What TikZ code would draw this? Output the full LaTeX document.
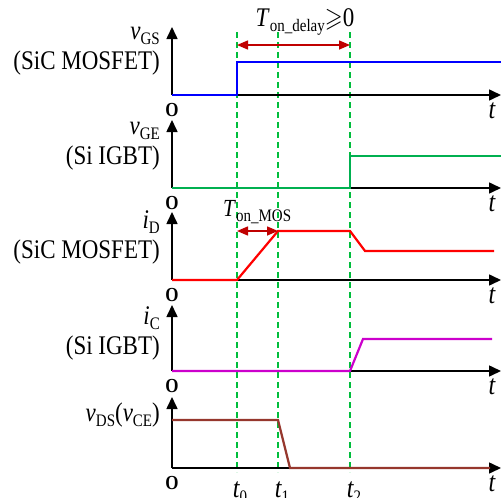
\documentclass[tikz,border=0pt]{standalone}
\usepackage{amssymb}
\usepackage{fontspec}
\setmainfont{Liberation Serif}
\usetikzlibrary{arrows.meta}
\definecolor{sigblue}{RGB}{0,0,255}
\definecolor{siggreen}{RGB}{0,176,80}
\definecolor{sigred}{RGB}{255,0,0}
\definecolor{sigmag}{RGB}{204,0,204}
\definecolor{sigbrown}{RGB}{150,55,45}
\definecolor{dashgreen}{RGB}{0,190,60}
\definecolor{arrred}{RGB}{192,0,0}
\tikzset{
  axis/.style={line width=1.6pt,-{Triangle[length=12pt,width=11pt]}},
  sig/.style={line width=2.2pt,line join=miter},
  guide/.style={dashgreen,line width=1.5pt,dash pattern=on 6pt off 4pt},
  lbl/.style={font=\fontsize{23}{26}\selectfont,inner sep=0pt,anchor=east},
  tl/.style={font=\fontsize{24}{26}\selectfont\itshape,inner sep=0pt},
  ol/.style={font=\fontsize{17}{20}\selectfont\bfseries,inner sep=0pt},
  dim/.style={arrred,line width=1.5pt,{Triangle[length=11pt,width=9pt]}-{Triangle[length=11pt,width=9pt]}}
}
\newcommand{\sub}[1]{\raisebox{-0.18em}{\fontsize{15}{16}\selectfont #1}}
\newcommand{\tall}[1]{\scalebox{1}[1.17]{#1}}
\begin{document}
\begin{tikzpicture}[x=1pt,y=-1pt]
\useasboundingbox (0,0) rectangle (501,498);
% guide lines
\foreach \n/\x in {a/237,b/278,c/350}{
  \coordinate (g\n top) at (\x,32);
  \coordinate (g\n bot) at (\x,472);
  \draw[guide] (g\n top) -- (g\n bot);
}
% axes
\foreach \i/\b/\t in {1/95/27,2/188/120,3/280/212,4/371/305,5/468/397}{
  \coordinate (o\i) at (172,\b);
  \coordinate (y\i) at (172,\t);
  \coordinate (x\i) at (501,\b);
  \draw[axis] (o\i) -- (y\i);
  \draw[axis] (o\i) -- (x\i);
  \node[ol] (O\i) at (172,\b+15) {\tall{O}};
  \node[tl] (t\i) at (492,\b+16) {\tall{t}};
}
% signals
\coordinate (b1) at (237,95); \coordinate (b2) at (237,62); \coordinate (b3) at (501,62);
\draw[sig,sigblue] (o1) -- (b1) -- (b2) -- (b3);
\coordinate (c1) at (350,188); \coordinate (c2) at (350,156); \coordinate (c3) at (501,156);
\draw[sig,siggreen] (o2) -- (c1) -- (c2) -- (c3);
\coordinate (d1) at (237,280); \coordinate (d2) at (278,231); \coordinate (d3) at (350,231);
\coordinate (d4) at (365,251); \coordinate (d5) at (494,251);
\draw[sig,sigred] (o3) -- (d1) -- (d2) -- (d3) -- (d4) -- (d5);
\coordinate (e1) at (350,371); \coordinate (e2) at (363,339); \coordinate (e3) at (492,339);
\draw[sig,sigmag] (o4) -- (e1) -- (e2) -- (e3);
\coordinate (f0) at (172,420); \coordinate (f1) at (278,420); \coordinate (f2) at (290,468); \coordinate (f3) at (490,468);
\draw[sig,sigbrown] (f0) -- (f1) -- (f2) -- (f3);
% dimension arrows
\coordinate (h1) at (237,45); \coordinate (h2) at (350,45);
\draw[dim] (h1) -- (h2);
\node[font=\fontsize{23}{26}\selectfont,inner sep=0pt] (Tdel) at (305,22) {\tall{\textit{T}\sub{on\_delay}$\geqslant$0}};
\coordinate (k1) at (237,231); \coordinate (k2) at (278,231);
\draw[dim] (k1) -- (k2);
\node[font=\fontsize{21}{24}\selectfont,inner sep=0pt,anchor=west] (Tmos) at (223,212) {\tall{\textit{T}\sub{on\_MOS}}};
% labels
\node[lbl] (L1a) at (160,36) {\tall{\textit{v}\sub{GS}}};
\node[lbl] (L1b) at (160,63) {\tall{(SiC MOSFET)}};
\node[lbl] (L2a) at (160,131) {\tall{\textit{v}\sub{GE}}};
\node[lbl] (L2b) at (160,158) {\tall{(Si IGBT)}};
\node[lbl] (L3a) at (160,222) {\tall{\textit{i}\sub{D}}};
\node[lbl] (L3b) at (160,252) {\tall{(SiC MOSFET)}};
\node[lbl] (L4a) at (160,318) {\tall{\textit{i}\sub{C}}};
\node[lbl] (L4b) at (160,348) {\tall{(Si IGBT)}};
\node[lbl] (L5a) at (160,415) {\tall{\textit{v}\sub{DS}(\textit{v}\sub{CE})}};
% time labels
\node[tl] (T0) at (240,492) {\tall{t\sub{\upshape 0}}};
\node[tl] (T1) at (282,492) {\tall{t\sub{\upshape 1}}};
\node[tl] (T2) at (354,492) {\tall{t\sub{\upshape 2}}};
\end{tikzpicture}
\end{document}
